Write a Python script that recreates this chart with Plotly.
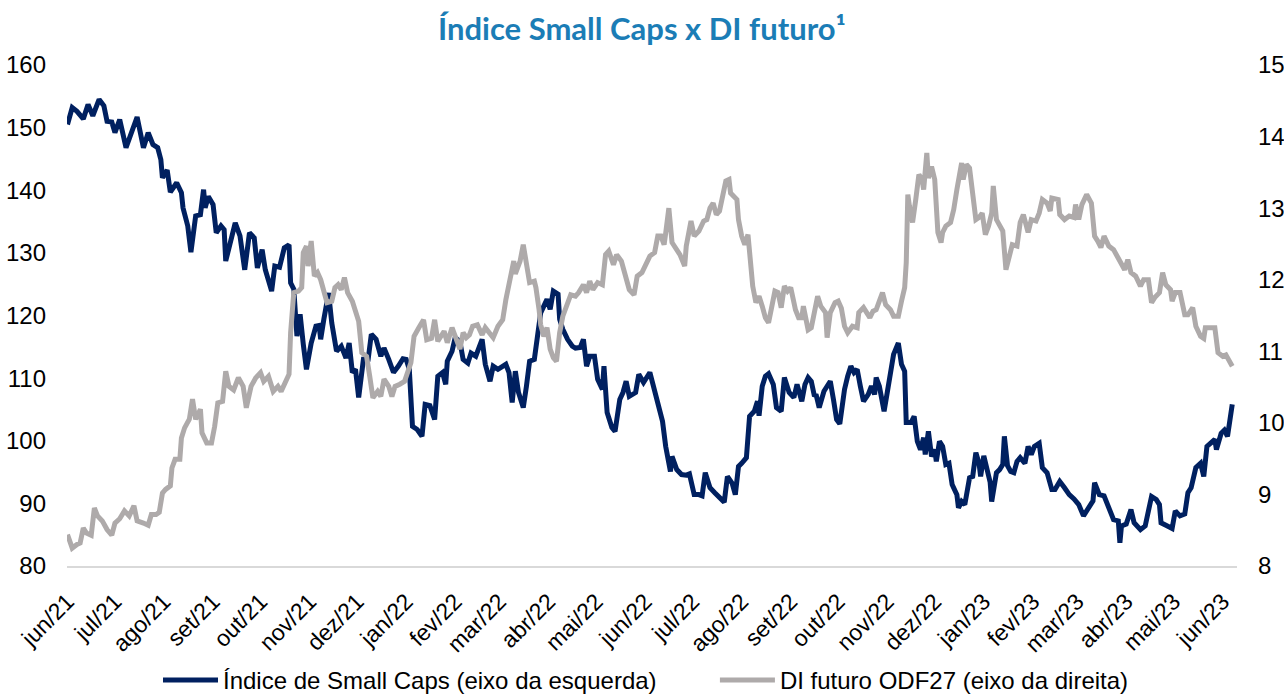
import pandas as pd
import plotly.graph_objects as go

start = pd.Timestamp("2021-06-01")

# Índice de Small Caps (left axis) – days since 2021-06-01 and index level
smll_days = [
    0, 3, 6, 8, 10, 13, 16, 20, 23, 25,
    28, 30, 33, 37, 40, 44, 48, 51, 54, 57,
    59, 60, 63, 65, 69, 72, 73, 76, 78, 81,
    84, 86, 87, 89, 92, 94, 97, 99, 100, 102,
    106, 109, 112, 115, 118, 120, 123, 125, 129, 131,
    134, 137, 140, 141, 143, 145, 147, 149, 151, 154,
    157, 159, 160, 162, 165, 167, 170, 173, 176, 178,
    180, 182, 184, 187, 190, 192, 195, 198, 200, 203,
    206, 209, 212, 214, 216, 218, 221, 224, 226, 229,
    232, 234, 237, 239, 240, 243, 245, 248, 250, 253,
    255, 258, 262, 264, 267, 269, 272, 277, 279, 281,
    283, 285, 288, 290, 292, 295, 297, 299, 301, 303,
    305, 307, 310, 311, 313, 316, 319, 321, 324, 326,
    328, 330, 333, 335, 338, 339, 341, 344, 346, 349,
    351, 353, 355, 359, 361, 364, 368, 371, 374, 376,
    378, 381, 382, 385, 388, 391, 393, 396, 399, 401,
    403, 406, 409, 412, 415, 417, 420, 422, 424, 426,
    429, 431, 434, 436, 437, 439, 441, 443, 446, 448,
    451, 453, 456, 459, 461, 464, 466, 468, 470, 472,
    473, 475, 478, 480, 482, 484, 486, 488, 491, 493,
    495, 497, 499, 501, 503, 506, 508, 510, 511, 513,
    516, 518, 520, 522, 525, 527, 529, 530, 533, 535,
    537, 539, 541, 542, 544, 546, 548, 549, 551, 553,
    555, 557, 559, 562, 563, 565, 567, 570, 572, 574,
    576, 577, 579, 581, 583, 584, 587, 589, 591, 592,
    594, 596, 598, 600, 602, 605, 607, 609, 611, 614,
    616, 619, 622, 624, 627, 630, 633, 636, 639, 642,
    646, 648, 649, 652, 655, 658, 661, 664, 665, 666,
    669, 672, 674, 678, 681, 685, 688, 690, 691, 695,
    698, 700, 703, 706, 708, 710, 713, 716, 718, 720,
    723, 725, 726, 729, 731, 733, 736,
]
smll_values = [
    150.5, 153.2, 152.6, 152.1, 151.4, 153.7, 151.9, 154.5, 153.5, 151.0,
    150.9, 149.2, 151.3, 146.8, 148.9, 151.7, 146.8, 149.2, 147.3, 146.8,
    144.9, 142.0, 143.2, 139.7, 141.2, 139.6, 137.2, 134.3, 130.1, 135.9,
    136.1, 140.1, 137.2, 139.0, 137.7, 133.2, 134.3, 133.7, 128.7, 130.5,
    134.8, 132.7, 127.3, 133.2, 132.4, 127.6, 130.5, 127.3, 123.9, 127.9,
    127.7, 130.8, 131.3, 125.2, 124.2, 116.7, 120.2, 115.4, 111.4, 115.6,
    118.3, 118.4, 116.2, 119.4, 123.6, 118.8, 114.3, 115.1, 113.2, 115.6,
    110.9, 111.4, 106.9, 113.0, 113.0, 117.0, 116.2, 113.5, 114.8, 113.0,
    110.9, 111.9, 113.1, 113.0, 111.4, 102.3, 101.8, 100.7, 105.8, 105.6,
    103.4, 110.3, 110.9, 109.0, 112.7, 114.3, 116.5, 115.8, 113.0, 112.4,
    114.0, 113.5, 116.2, 112.2, 109.5, 111.9, 111.4, 112.2, 110.9, 106.1,
    111.1, 107.7, 105.3, 108.7, 112.7, 113.0, 116.7, 120.4, 121.5, 122.6,
    121.0, 123.9, 123.4, 119.4, 117.8, 116.2, 115.1, 114.8, 114.9, 116.2,
    111.9, 113.5, 113.5, 109.8, 108.2, 111.9, 104.5, 102.1, 101.5, 106.6,
    107.7, 109.5, 107.1, 107.7, 110.6, 109.3, 110.9, 107.7, 104.5, 103.1,
    99.1, 95.1, 97.5, 95.4, 94.6, 94.5, 94.7, 91.4, 91.4, 91.2,
    94.9, 92.5, 91.7, 90.9, 90.2, 94.3, 93.2, 91.4, 95.9, 96.4,
    97.3, 103.9, 104.7, 106.3, 104.0, 108.7, 110.3, 110.7, 109.0, 105.3,
    104.7, 110.1, 107.7, 106.9, 109.0, 106.3, 109.0, 110.1, 109.5, 107.1,
    107.4, 105.3, 107.9, 108.7, 109.5, 106.6, 103.4, 102.7, 108.2, 110.3,
    111.9, 110.9, 111.4, 108.7, 106.3, 107.4, 108.7, 107.4, 110.1, 108.7,
    104.7, 107.7, 110.9, 113.8, 115.6, 112.2, 111.1, 102.9, 102.9, 103.9,
    99.9, 98.6, 100.5, 97.8, 101.5, 97.5, 98.6, 96.7, 99.9, 99.1,
    96.2, 96.4, 93.0, 91.4, 89.3, 90.3, 89.8, 94.1, 94.3, 98.1,
    96.4, 94.3, 97.6, 95.4, 93.4, 90.3, 94.9, 95.4, 96.2, 100.7,
    96.0, 95.1, 94.9, 96.7, 97.3, 96.4, 99.1, 97.8, 99.1, 99.6,
    95.7, 94.9, 92.2, 92.2, 93.5, 92.5, 91.4, 90.7, 89.8, 88.0,
    89.6, 90.4, 93.3, 91.4, 91.2, 89.0, 87.4, 87.2, 83.7, 86.4,
    86.7, 89.0, 86.9, 85.8, 86.4, 91.1, 90.6, 89.8, 86.9, 86.4,
    86.0, 88.8, 88.0, 88.3, 91.7, 92.5, 95.7, 96.4, 94.3, 99.1,
    99.9, 100.2, 98.6, 101.2, 101.7, 100.7, 105.8,
]

# DI futuro ODF27 (right axis) – days since 2021-06-01 and rate (%)
di_days = [
    0, 3, 6, 8, 10, 12, 15, 17, 19, 22,
    25, 28, 30, 33, 36, 39, 42, 44, 48, 51,
    53, 56, 58, 60, 62, 65, 66, 68, 71, 72,
    74, 77, 79, 81, 84, 85, 88, 91, 93, 95,
    98, 100, 102, 105, 108, 111, 113, 116, 119, 122,
    124, 127, 130, 133, 135, 138, 140, 141, 143, 146,
    148, 149, 151, 152, 154, 156, 158, 160, 162, 164,
    167, 169, 171, 173, 175, 177, 180, 182, 184, 186,
    189, 191, 193, 196, 198, 200, 203, 205, 207, 210,
    213, 217, 219, 222, 225, 227, 230, 232, 234, 238,
    240, 243, 246, 248, 250, 252, 254, 256, 259, 262,
    264, 267, 269, 272, 275, 277, 280, 282, 283, 286,
    288, 290, 292, 295, 296, 298, 299, 301, 303, 305,
    307, 309, 311, 313, 315, 318, 321, 323, 326, 328,
    330, 332, 335, 338, 340, 342, 345, 347, 350, 353,
    355, 358, 360, 363, 365, 368, 371, 373, 375, 377,
    378, 380, 382, 385, 387, 390, 391, 394, 396, 399,
    402, 404, 406, 408, 410, 412, 414, 416, 418, 419,
    423, 424, 426, 428, 430, 432, 433, 435, 437, 439,
    441, 443, 445, 447, 449, 451, 453, 455, 457, 460,
    462, 464, 465, 468, 470, 472, 474, 476, 479, 480,
    482, 485, 487, 489, 491, 493, 496, 499, 500, 503,
    505, 507, 509, 511, 513, 515, 517, 520, 522, 525,
    527, 529, 530, 531, 532, 534, 536, 538, 540, 541,
    543, 544, 546, 548, 550, 552, 553, 555, 558, 560,
    562, 565, 566, 568, 570, 572, 574, 576, 578, 580,
    582, 584, 585, 587, 589, 591, 593, 595, 597, 600,
    602, 604, 607, 609, 612, 614, 616, 619, 621, 622,
    626, 627, 630, 633, 636, 637, 639, 641, 644, 647,
    649, 651, 653, 655, 658, 661, 663, 666, 668, 670,
    672, 675, 678, 680, 683, 685, 687, 690, 692, 694,
    697, 698, 700, 703, 706, 708, 711, 713, 716, 718,
    719, 722, 725, 727, 730, 732, 734, 736,
]
di_values = [
    8.44, 8.25, 8.30, 8.32, 8.53, 8.46, 8.43, 8.81, 8.70, 8.63,
    8.51, 8.43, 8.60, 8.66, 8.77, 8.70, 8.84, 8.63, 8.60, 8.57,
    8.72, 8.72, 8.75, 9.02, 9.07, 9.12, 9.37, 9.49, 9.49, 9.79,
    9.93, 10.05, 10.33, 10.05, 10.19, 9.86, 9.72, 9.72, 9.95, 10.28,
    10.30, 10.72, 10.51, 10.46, 10.63, 10.51, 10.21, 10.51, 10.63, 10.70,
    10.58, 10.65, 10.44, 10.51, 10.44, 10.61, 10.68, 11.26, 11.82, 11.84,
    11.89, 12.38, 12.47, 12.19, 12.54, 12.05, 12.10, 12.00, 11.82, 11.68,
    11.70, 11.89, 11.93, 11.86, 12.03, 11.82, 11.70, 11.58, 11.42, 10.98,
    10.93, 10.65, 10.35, 10.44, 10.37, 10.61, 10.51, 10.37, 10.51, 10.54,
    10.58, 10.84, 11.21, 11.33, 11.44, 11.16, 11.18, 11.44, 11.14, 11.28,
    11.12, 11.33, 11.12, 11.03, 11.26, 11.19, 11.23, 11.35, 11.37, 11.23,
    11.33, 11.26, 11.19, 11.35, 11.44, 11.72, 12.10, 12.26, 12.08, 12.26,
    12.49, 12.26, 11.96, 11.98, 11.89, 11.58, 11.37, 11.21, 11.33, 11.03,
    10.91, 10.86, 11.26, 11.49, 11.63, 11.79, 11.77, 11.82, 11.93, 11.82,
    11.98, 11.86, 11.96, 11.93, 12.35, 12.40, 12.21, 12.35, 12.26, 12.05,
    11.86, 11.79, 12.05, 12.10, 12.21, 12.33, 12.38, 12.61, 12.61, 12.49,
    12.65, 13.00, 12.52, 12.40, 12.35, 12.19, 12.47, 12.82, 12.61, 12.68,
    12.82, 12.84, 13.00, 13.07, 12.91, 12.96, 13.17, 13.38, 13.40, 13.21,
    13.12, 12.84, 12.61, 12.49, 12.63, 12.10, 11.91, 11.68, 11.77, 11.63,
    11.47, 11.40, 11.63, 11.84, 11.82, 11.61, 11.91, 11.84, 11.89, 11.58,
    11.47, 11.47, 11.63, 11.30, 11.33, 11.58, 11.77, 11.63, 11.54, 11.19,
    11.54, 11.68, 11.70, 11.60, 11.35, 11.26, 11.35, 11.33, 11.54, 11.61,
    11.54, 11.47, 11.56, 11.58, 11.70, 11.82, 11.65, 11.58, 11.49, 11.49,
    11.70, 11.89, 12.24, 13.19, 13.03, 12.80, 13.12, 13.47, 13.40, 13.26,
    13.77, 13.42, 13.58, 13.40, 12.66, 12.52, 12.66, 12.75, 12.80, 12.98,
    13.26, 13.63, 13.40, 13.61, 13.56, 13.17, 12.84, 12.87, 12.93, 12.63,
    12.75, 12.93, 13.31, 12.84, 12.77, 12.68, 12.14, 12.33, 12.49, 12.47,
    12.80, 12.91, 12.66, 12.84, 12.82, 12.93, 13.12, 13.07, 12.96, 13.14,
    13.12, 12.91, 12.84, 12.89, 12.87, 13.05, 12.84, 13.05, 13.19, 13.07,
    12.61, 12.54, 12.45, 12.61, 12.47, 12.42, 12.33, 12.21, 12.14, 12.28,
    12.10, 12.05, 11.91, 12.00, 12.00, 11.68, 11.75, 11.82, 12.10, 11.93,
    11.86, 11.70, 11.82, 11.82, 11.51, 11.51, 11.61, 11.35, 11.21, 11.18,
    11.33, 11.33, 11.33, 10.98, 10.93, 10.95, 10.86, 10.79,
]

month_labels = [
    "jun/21", "jul/21", "ago/21", "set/21", "out/21", "nov/21", "dez/21",
    "jan/22", "fev/22", "mar/22", "abr/22", "mai/22", "jun/22", "jul/22",
    "ago/22", "set/22", "out/22", "nov/22", "dez/22", "jan/23", "fev/23",
    "mar/23", "abr/23", "mai/23", "jun/23",
]
left_ticks = [80, 90, 100, 110, 120, 130, 140, 150, 160]
right_ticks = [8, 9, 10, 11, 12, 13, 14, 15]

smll_dates = start + pd.to_timedelta(smll_days, unit="D")
di_dates = start + pd.to_timedelta(di_days, unit="D")
month_starts = pd.date_range("2021-06-01", "2023-06-01", freq="MS")

fig = go.Figure()
fig.add_trace(go.Scatter(
    x=smll_dates, y=smll_values, mode="lines",
    # trailing non-breaking spaces reproduce the wide gap between legend items
    name="Índice de Small Caps (eixo da esquerda)" + "\u00a0" * 8,
    line=dict(color="#002060", width=5),
    yaxis="y",
))
fig.add_trace(go.Scatter(
    x=di_dates, y=di_values, mode="lines",
    name="DI futuro ODF27 (eixo da direita)",
    line=dict(color="#AEAAAA", width=5),
    yaxis="y2",
))

FONT = "Liberation Sans, Arial, sans-serif"
tick_font = dict(family=FONT, size=24, color="#000000")

fig.update_layout(
    width=1284, height=696,
    paper_bgcolor="white", plot_bgcolor="white",
    margin=dict(l=67, r=47, t=65, b=130, autoexpand=False),
    title=dict(
        text="<b>Índice Small Caps x DI futuro¹</b>",
        x=0.5, xanchor="center", y=1 - 29 / 696, yanchor="middle",
        font=dict(family="Lato, Open Sans, sans-serif", size=31, color="#1B7DB6"),
    ),
    xaxis=dict(
        type="date", automargin=False,
        range=[start - pd.Timedelta(days=0.3), start + pd.Timedelta(days=739)],
        tickvals=month_starts, ticktext=month_labels,
        tickangle=-45, tickfont=dict(family=FONT, size=23, color="#000000"),
        showgrid=False, zeroline=False,
        showline=True, linecolor="#D9D9D9", linewidth=2,
        ticks="", ticklabelstandoff=11,
    ),
    yaxis=dict(
        range=[80, 160], tickvals=left_ticks, tickfont=tick_font, automargin=False,
        showgrid=False, zeroline=False, showline=False, ticks="",
        ticklabelstandoff=20,
    ),
    yaxis2=dict(
        range=[8, 15], tickvals=right_ticks, tickfont=tick_font, automargin=False,
        overlaying="y", side="right",
        showgrid=False, zeroline=False, showline=False, ticks="",
        ticklabelstandoff=20,
    ),
    legend=dict(
        orientation="h", x=(646 - 67) / 1170, xanchor="center",
        y=-(681 - 566.5) / 501, yanchor="middle",
        font=dict(family=FONT, size=24, color="#000000"),
        traceorder="normal", itemwidth=55,
        bgcolor="rgba(0,0,0,0)",
    ),
    showlegend=True,
)

fig.write_html(
    "out.html",
    config={"displayModeBar": False},
    post_script="document.body.style.margin='0';document.body.style.overflow='hidden';",
)
